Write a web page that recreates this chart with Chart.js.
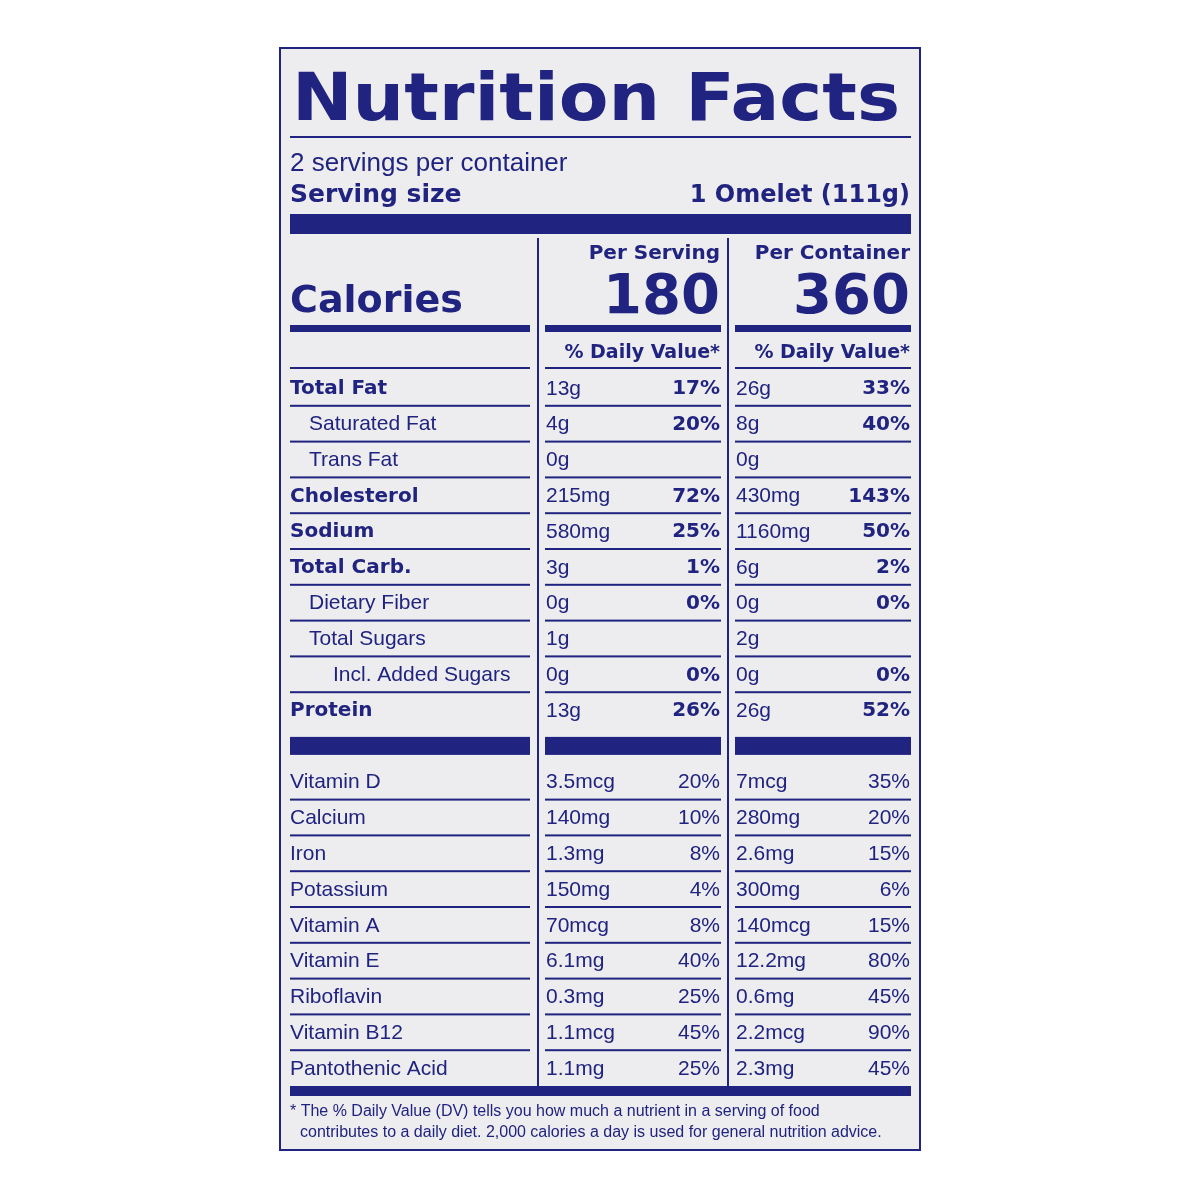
<!DOCTYPE html>
<html><head><meta charset="utf-8">
<script src="https://cdn.jsdelivr.net/npm/chart.js@4.4.1/dist/chart.umd.min.js"></script>
<style>html,body{margin:0;background:#fff}#wrap{width:1200px;height:1200px}</style>
</head><body><div id="wrap"><canvas id="label"></canvas></div>
<script>
const INK = '#20237f'
const PAPER = '#ededef'

const servingsText = '2 servings per container'
const servingSize = '1 Omelet (111g)'
const calories = ['180', '360']

// rows ('' = the thick separator band)
const nutrients = ['Total Fat', 'Saturated Fat', 'Trans Fat', 'Cholesterol', 'Sodium', 'Total Carb.', 'Dietary Fiber', 'Total Sugars', 'Incl. Added Sugars', 'Protein', '',
  'Vitamin D', 'Calcium', 'Iron', 'Potassium', 'Vitamin A', 'Vitamin E', 'Riboflavin', 'Vitamin B12', 'Pantothenic Acid']
const indent = [0, 1, 1, 0, 0, 0, 1, 1, 2, 0, 0, 0, 0, 0, 0, 0, 0, 0, 0, 0]
const boldName = [1, 0, 0, 1, 1, 1, 0, 0, 0, 1, 0, 0, 0, 0, 0, 0, 0, 0, 0, 0]
const servingAmt = ['13g', '4g', '0g', '215mg', '580mg', '3g', '0g', '1g', '0g', '13g', '',
  '3.5mcg', '140mg', '1.3mg', '150mg', '70mcg', '6.1mg', '0.3mg', '1.1mcg', '1.1mg']
const servingDV = ['17%', '20%', '', '72%', '25%', '1%', '0%', '', '0%', '26%', '',
  '20%', '10%', '8%', '4%', '8%', '40%', '25%', '45%', '25%']
const containerAmt = ['26g', '8g', '0g', '430mg', '1160mg', '6g', '0g', '2g', '0g', '26g', '',
  '7mcg', '280mg', '2.6mg', '300mg', '140mcg', '12.2mg', '0.6mg', '2.2mcg', '2.3mg']
const containerDV = ['33%', '40%', '', '143%', '50%', '2%', '0%', '', '0%', '52%', '',
  '35%', '20%', '15%', '6%', '15%', '80%', '45%', '90%', '45%']
const footnote = ['* The % Daily Value (DV) tells you how much a nutrient in a serving of food',
  'contributes to a daily diet. 2,000 calories a day is used for general nutrition advice.']

const HEAVY = '"DejaVu Sans", sans-serif'
const REG = '"Liberation Sans", Arial, sans-serif'
const cols = [[290, 530], [545, 721], [735, 911]]

const labelPlugin = {
  id: 'label',
  beforeDraw(chart) {
    const c = chart.ctx
    c.save()
    c.fillStyle = '#fff'; c.fillRect(0, 0, 1200, 1200)
    c.fillStyle = PAPER; c.fillRect(280, 48, 640, 1102)
    c.strokeStyle = INK; c.lineWidth = 2; c.strokeRect(280, 48, 640, 1102)
    c.restore()
  },
  afterDraw(chart) {
    const c = chart.ctx, y = chart.scales.y
    const txt = (s, x, yy, font, align) => { c.font = font; c.textAlign = align || 'left'; c.fillText(s, x, yy) }
    const bar = (x1, x2, y1, h) => c.fillRect(x1, y1, x2 - x1, h)
    c.save()
    c.fillStyle = INK; c.textBaseline = 'middle'

    // title stretched to width
    c.font = 'bold 66px ' + HEAVY
    const w = c.measureText('Nutrition Facts').width
    c.save(); c.translate(292, 103); c.scale(608 / w, 1); c.textAlign = 'left'; c.fillText('Nutrition Facts', 0, 0); c.restore()
    bar(290, 911, 136, 2)
    txt(servingsText, 290, 164, '26px ' + REG)
    txt('Serving size', 290, 195, 'bold 25px ' + HEAVY)
    txt(servingSize, 910, 196, 'bold 24px ' + HEAVY, 'right')
    bar(290, 911, 214, 20)

    // column dividers
    bar(537, 539, 238, 848)
    bar(727, 729, 238, 848)

    txt('Per Serving', 720, 254, 'bold 20px ' + HEAVY, 'right')
    txt('Per Container', 910, 254, 'bold 20px ' + HEAVY, 'right')
    txt(calories[0], 720, 298, 'bold 56px ' + HEAVY, 'right')
    txt(calories[1], 910, 298, 'bold 56px ' + HEAVY, 'right')
    txt('Calories', 290, 302, 'bold 38px ' + HEAVY)
    cols.forEach(([a, b]) => bar(a, b, 325, 7))
    txt('% Daily Value*', 720, 353, 'bold 19px ' + HEAVY, 'right')
    txt('% Daily Value*', 910, 353, 'bold 19px ' + HEAVY, 'right')
    cols.forEach(([a, b]) => bar(a, b, 367, 2))

    const step = y.getPixelForValue(1) - y.getPixelForValue(0)
    nutrients.forEach((n, i) => {
      const py = y.getPixelForValue(i)
      if (n === '') { cols.forEach(([a, b]) => bar(a, b, py - 9, 18)); return }
      const vit = i > 10
      txt(n, 290 + indent[i] * 19 + (indent[i] === 2 ? 5 : 0), py + 1, (boldName[i] ? 'bold 20px ' + HEAVY : '21px ' + REG))
      txt(servingAmt[i], 546, py + 1, '21px ' + REG)
      txt(containerAmt[i], 736, py + 1, '21px ' + REG)
      const dvFont = vit ? '21px ' + REG : 'bold 20px ' + HEAVY
      txt(servingDV[i], 720, py + 1, dvFont, 'right')
      txt(containerDV[i], 910, py + 1, dvFont, 'right')
      if (i < nutrients.length - 1 && nutrients[i + 1] !== '') {
        const ly = py + step / 2 - 1
        cols.forEach(([a, b]) => bar(a, b, ly, 2))
      }
    })
    bar(290, 911, y.bottom, 10)
    txt(footnote[0], 290, 1112, '16px ' + REG)
    txt(footnote[1], 300, 1133, '16px ' + REG)
    c.restore()
  }
}

new Chart(document.getElementById('label'), {
  type: 'bar',
  data: { labels: nutrients, datasets: [{ data: nutrients.map(() => null) }] },
  options: {
    responsive: true, maintainAspectRatio: false, animation: false, indexAxis: 'y',
    layout: { padding: { left: 290, right: 289, top: 370, bottom: 114 } },
    plugins: { legend: { display: false }, tooltip: { enabled: false } },
    scales: { y: { display: false, offset: true }, x: { display: false, min: 0, max: 1 } }
  },
  plugins: [labelPlugin]
})
</script></body></html>
